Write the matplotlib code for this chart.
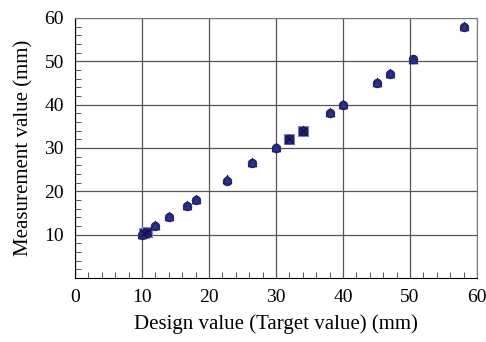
import numpy as np
import matplotlib.pyplot as plt
from matplotlib.ticker import MultipleLocator

plt.rcParams['font.family'] = ['Liberation Serif', 'DejaVu Serif']

# design values and measurements (mm)
design = [10, 10.6, 12, 14, 16.7, 18, 22.7, 26.4, 30, 32, 34, 38, 40, 45, 47, 50.5, 58]
meas_circle = [10, 10.5, 12, 14, 16.7, 18, 22.3, 26.5, 30, 32, 34, 38, 40, 45, 47, 50.5, 58]
meas_tri = [10.2, 10.6, 12.2, 14.2, 16.9, 18.2, 22.8, 26.7, 30.2, 32.1, 34.1, 38.2, 40.2, 45.2, 47.2, 50.6, 58.2]
design_sq = [10.3, 10.8, 32, 34]
meas_sq = [10.3, 10.7, 32, 34]

fig = plt.figure(figsize=(4.86, 3.42), dpi=100)
ax = fig.add_axes([75 / 486, 64 / 342, 402 / 486, 260 / 342])

col = '#2e3192'
ax.scatter(design_sq, meas_sq, marker='s', s=55, color=col, edgecolor='#8080c0', lw=0.8, zorder=3)
ax.scatter(design_sq, meas_sq, marker='x', s=28, color='#111144', lw=1.0, zorder=4)
ax.scatter(design, meas_circle, marker='o', s=38, color=col, edgecolor='#1a1a50', lw=0.6, zorder=3)
ax.scatter(design, meas_tri, marker='^', s=40, color=col, edgecolor='#1a1a50', lw=0.6, zorder=3)

ax.set_xlim(0, 60)
ax.set_ylim(0, 60)
ax.xaxis.set_major_locator(MultipleLocator(10))
ax.yaxis.set_major_locator(MultipleLocator(10))
ax.xaxis.set_minor_locator(MultipleLocator(2))
ax.yaxis.set_minor_locator(MultipleLocator(2))
ax.set_yticks([10, 20, 30, 40, 50, 60])
ax.grid(True, which='major', color='#555555', lw=0.9)
ax.tick_params(which='both', direction='in', top=False, right=False, labelsize=14)
ax.tick_params(which='major', length=0, pad=8)
ax.tick_params(which='minor', length=4, width=0.7, color='#555555')
for s in ['top', 'right']:
    ax.spines[s].set_color('#777777')
ax.set_xticks([0, 10, 20, 30, 40, 50, 60])

ax.set_xlabel('Design value (Target value) (mm)', fontsize=15, labelpad=6)
ax.set_ylabel('Measurement value (mm)', fontsize=15, labelpad=8)

fig.savefig('out.png', dpi=100)
